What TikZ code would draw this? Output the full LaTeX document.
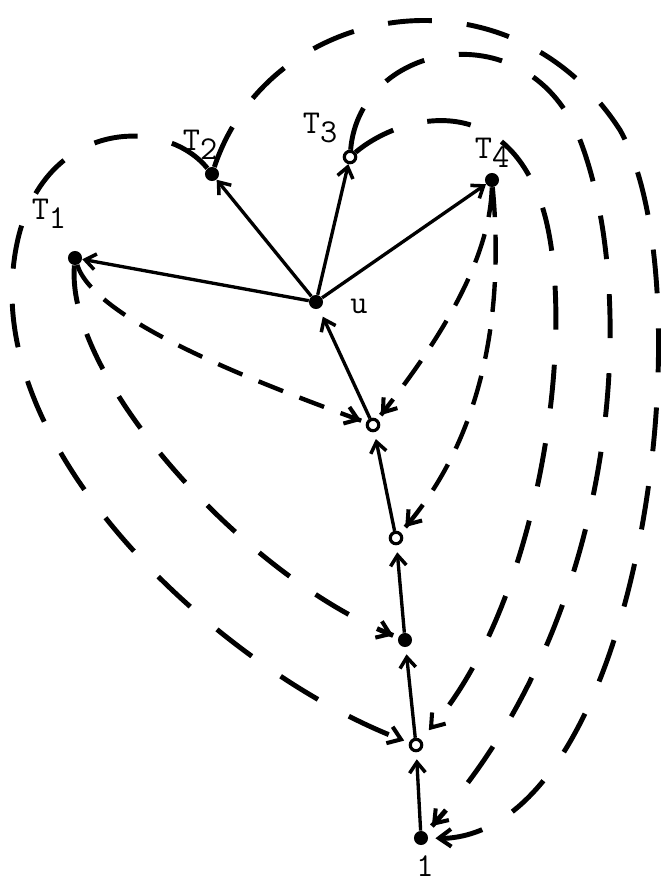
\documentclass[tikz,border=0pt]{standalone}
\usetikzlibrary{arrows.meta, decorations.markings}

\newcommand{\tlab}[1]{T\raisebox{-0.65ex}{#1}}

\begin{document}
\begin{tikzpicture}[x=0.02cm, y=-0.02cm,
  dot/.style={circle, fill, inner sep=0pt, minimum size=8pt},
  ring/.style={circle, draw, line width=1.8pt, inner sep=0pt, minimum size=6.5pt},
  lbl/.style={font=\ttfamily\fontsize{19}{19}\selectfont},
  tree/.style={line width=1.9pt, -{Straight Barb[length=6pt,width=9pt,line width=2pt]}},
  dtip/.style={shorten >=#1, postaction={decorate, decoration={markings,
    mark=at position -#1 with {\pgfsetdash{}{0pt}\arrow{Straight Barb[length=7pt,width=10pt,line width=2.3pt]}}}}},
  dtip/.default=3pt,
  back/.style={line width=2.8pt, dash pattern=on 25pt off 20pt, dtip=#1},
  back/.default=3pt,
  shortback/.style={line width=2.5pt, dash pattern=on 15pt off 10pt, dtip=#1},
  shortback/.default=3pt]
  \useasboundingbox (0,0) rectangle (660,882);

  % vertices
  \node[dot] (u) at (316,302) {};
  \node[dot] (T1) at (75,258) {};
  \node[dot] (T2) at (212,174) {};
  \node[ring] (T3) at (350,157) {};
  \node[dot] (T4) at (492,180) {};
  \node[ring] (a) at (373,425) {};
  \node[ring] (b) at (396,538) {};
  \node[dot] (c) at (405,640) {};
  \node[ring] (d) at (416,745) {};
  \node[dot] (r) at (421,838) {};

  \node[lbl] (T1lab) at (49,214) {\tlab{1}};
  \node[lbl] (T2lab) at (200,145) {\tlab{2}};
  \node[lbl] (T3lab) at (320,128) {\tlab{3}};
  \node[lbl] (T4lab) at (492,153) {\tlab{4}};
  \node[lbl] (ulab) at (359,306) {u};
  \node[lbl] (rlab) at (425,866) {1};

  % tree edges
  \draw[tree] (u) -- (T1);
  \draw[tree] (u) -- (T2);
  \draw[tree] (u) -- (T3);
  \draw[tree] (u) -- (T4);
  \draw[tree, shorten >=4pt] (r) -- (d);
  \draw[tree, shorten >=4pt] (d) -- (c);
  \draw[tree, shorten >=4pt] (c) -- (b);
  \draw[tree, shorten >=4pt] (b) -- (a);
  \draw[tree, shorten >=5pt] (a) -- (u);

  % way points of the long curves
  \coordinate (wl) at (12,290);
  \coordinate (w1) at (540,200);
  \coordinate (w2) at (580,140);
  \coordinate (w3) at (620,130);

  % back edges
  \draw[shortback] (T1) .. controls (95,320) and (250,380) .. (a);
  \draw[back, dash pattern=on 22pt off 18pt] (T1) .. controls (65,380) and (250,580) .. (c);
  \draw[back] (T2) .. controls (160,110) and (15,120) .. (wl)
    .. controls (10,480) and (240,680) .. (d);
  \draw[shortback, dash pattern=on 17pt off 10pt] (T4) .. controls (490,260) and (440,340) .. (a);
  \draw[shortback=4pt, dash pattern=on 17pt off 10pt] (T4) .. controls (505,320) and (480,440) .. (b);
  \draw[back=7pt] (T3) .. controls (400,115) and (500,90) .. (w1)
    .. controls (580,310) and (545,600) .. (d);
  \draw[back=5pt] (T3) .. controls (360,40) and (530,10) .. (w2)
    .. controls (640,296) and (620,620) .. (r);
  \draw[back=4pt] (T2) .. controls (270,0) and (510,-40) .. (w3)
    .. controls (710,290) and (640,845) .. (r);
\end{tikzpicture}
\end{document}
